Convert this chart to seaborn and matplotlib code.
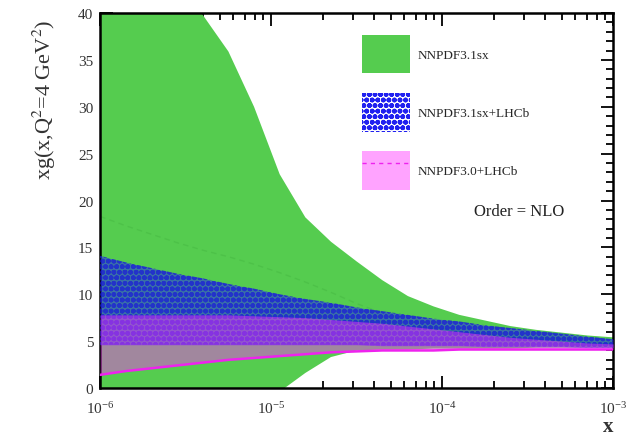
import numpy as np
import pandas as pd
import matplotlib
matplotlib.use("Agg")
import matplotlib.pyplot as plt
from matplotlib.patches import Patch
from matplotlib.lines import Line2D
from matplotlib.ticker import LogLocator, MultipleLocator, NullFormatter
import seaborn as sns

# x grid (log10 x) and band values
logx = [-6.0, -5.85, -5.7, -5.55, -5.4, -5.25, -5.1, -4.95, -4.8, -4.65, -4.5,
        -4.35, -4.2, -4.05, -3.9, -3.75, -3.6, -3.45, -3.3, -3.15, -3.0]

# NNPDF3.1sx
sx_hi = [50.0, 48.5, 46.5, 43.6, 39.8, 35.9, 30.0, 22.8, 18.2, 15.6, 13.5,
         11.5, 9.8, 8.7, 7.8, 7.2, 6.6, 6.2, 5.9, 5.6, 5.4]
sx_lo = [-16.0, -13.0, -10.5, -8.0, -6.0, -4.0, -2.2, -0.4, 1.6, 3.3, 4.0,
         4.1, 4.1, 4.2, 4.2, 4.2, 4.2, 4.3, 4.3, 4.3, 4.3]
sx_cv = [18.3, 17.3, 16.4, 15.5, 14.7, 14.0, 13.2, 12.3, 11.3, 10.2, 9.0,
         8.0, 7.2, 6.5, 6.0, 5.7, 5.4, 5.2, 5.0, 4.9, 4.8]

# NNPDF3.1sx+LHCb
lhcb_hi = [14.1, 13.4, 12.8, 12.2, 11.7, 11.1, 10.6, 10.0, 9.5, 9.1, 8.6,
           8.2, 7.8, 7.4, 7.1, 6.7, 6.4, 6.1, 5.8, 5.5, 5.2]
lhcb_lo = [4.6, 4.6, 4.6, 4.6, 4.6, 4.6, 4.6, 4.6, 4.6, 4.6, 4.6,
           4.5, 4.5, 4.5, 4.5, 4.4, 4.4, 4.4, 4.4, 4.3, 4.3]

# NNPDF3.0+LHCb
nn30_hi = [7.8, 7.8, 7.8, 7.8, 7.8, 7.8, 7.7, 7.6, 7.5, 7.3, 7.1,
           6.9, 6.6, 6.3, 6.0, 5.7, 5.4, 5.2, 5.0, 4.8, 4.7]
nn30_lo = [1.4, 1.8, 2.1, 2.4, 2.7, 3.0, 3.2, 3.4, 3.6, 3.8, 3.9,
           4.0, 4.0, 4.0, 4.1, 4.1, 4.1, 4.1, 4.1, 4.1, 4.1]

labels = ["NNPDF3.1sx", "NNPDF3.1sx+LHCb", "NNPDF3.0+LHCb"]

sns.set_theme(style="ticks")
plt.rcParams["font.family"] = ["Liberation Serif", "DejaVu Serif"]
plt.rcParams["mathtext.fontset"] = "stix"
plt.rcParams["hatch.linewidth"] = 1.8

df = pd.DataFrame({"x": 10.0 ** np.array(logx), "sx_cv": sx_cv, "nn30_lo": nn30_lo})

green = "#55cc4f"
blue = "#2020f0"
pink = "#ff33ff"
magenta = "#ee22ee"

fig = plt.figure(figsize=(6.34, 4.39), dpi=100)
ax = fig.add_axes([0.158, 0.114, 0.809, 0.854])

ax.fill_between(df["x"], sx_lo, sx_hi, color=green, lw=0, zorder=1)
sns.lineplot(data=df, x="x", y="sx_cv", ax=ax, color="#48bb44", alpha=0.6, lw=1,
             ls=(0, (4, 3)), zorder=2)
ax.fill_between(df["x"], lhcb_lo, lhcb_hi, color="#2838e0", alpha=0.6, lw=0, zorder=3)
ax.fill_between(df["x"], lhcb_lo, lhcb_hi, facecolor="none", edgecolor=(0.1, 0.1, 0.85, 0.7),
                hatch="ooo", lw=0, zorder=4)
ax.fill_between(df["x"], nn30_lo, nn30_hi, color=pink, alpha=0.45, lw=0, zorder=5)
sns.lineplot(data=df, x="x", y="nn30_lo", ax=ax, color=magenta, lw=1.8, zorder=6)

ax.set_xscale("log")
ax.set_xlim(1e-6, 1e-3)
ax.set_ylim(0, 40)
ax.xaxis.set_major_locator(LogLocator(base=10, numticks=10))
ax.xaxis.set_minor_locator(LogLocator(base=10, subs=np.arange(2, 10), numticks=20))
ax.xaxis.set_minor_formatter(NullFormatter())
ax.yaxis.set_major_locator(MultipleLocator(5))
ax.yaxis.set_minor_locator(MultipleLocator(1))

ax.tick_params(which="both", direction="in", top=True, right=True, width=1.3, labelsize=11,
               color="black", labelcolor="#333333")
ax.tick_params(which="major", length=9)
ax.tick_params(which="minor", length=5)
ax.tick_params(axis="x", which="major", pad=9)
ax.tick_params(axis="y", which="major", pad=5)
for s in ax.spines.values():
    s.set_linewidth(1.8)
    s.set_color("black")

ax.set_xlabel("x", fontsize=15, loc="right", labelpad=0, fontweight="bold", color="#333333")
ax.set_ylabel(r"xg(x,Q$^2$=4 GeV$^2$)", fontsize=16, loc="top", color="#333333")
ax.yaxis.set_label_coords(-0.083, 0.985)

handles = [Patch(facecolor=green, edgecolor="none"),
           Patch(facecolor="none", edgecolor=blue, hatch="ooo", lw=0),
           (Patch(facecolor=pink, alpha=0.45, edgecolor="none"),
            Line2D([], [], color=magenta, lw=1, ls=(0, (3, 3))))]
ax.legend(handles, labels, loc="upper left", bbox_to_anchor=(362 / 634, 1 - 36 / 439),
          bbox_transform=fig.transFigure, frameon=False, fontsize=9.5, borderpad=0,
          borderaxespad=0, handlelength=3.6, handleheight=4.1, labelspacing=1.5,
          handletextpad=0.6)

ax.text(519 / 634, 1 - 212 / 439, "Order = NLO", transform=fig.transFigure, fontsize=12,
        ha="center", va="center", color="#222222")

fig.savefig("out.png", dpi=100)
